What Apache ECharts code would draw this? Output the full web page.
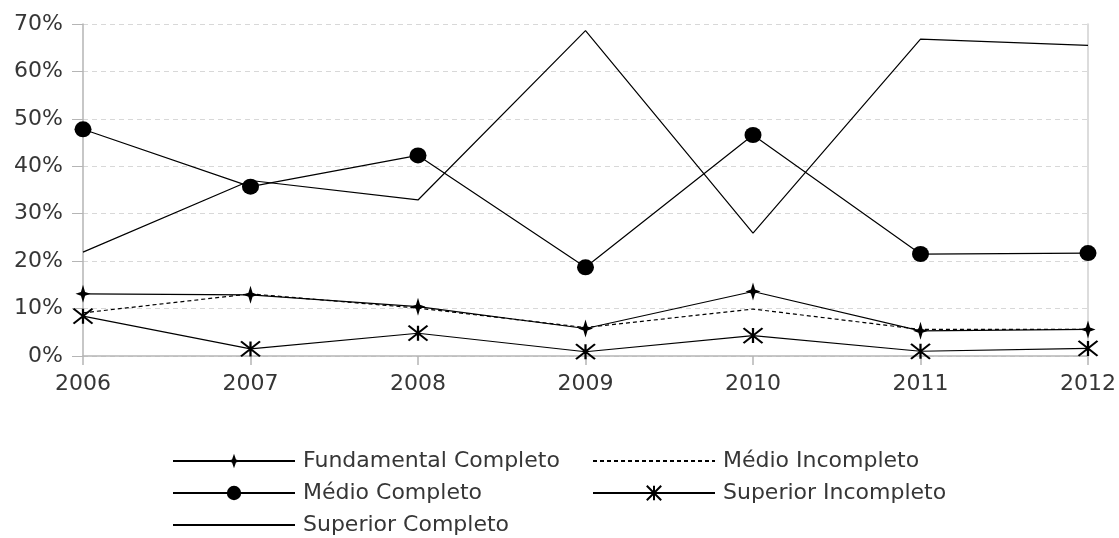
<!DOCTYPE html>
<html>
<head>
<meta charset="utf-8">
<script src="https://cdn.jsdelivr.net/npm/echarts@6/dist/echarts.min.js"></script>
<style>
  html, body { margin: 0; padding: 0; background: #fff; }
  #chart { width: 1119px; height: 538px; }
</style>
</head>
<body>
<div id="chart"></div>
<script>
// Years on the horizontal axis
const years = ['2006', '2007', '2008', '2009', '2010', '2011', '2012'];

// Share (%) per schooling level
const fundamentalCompleto = [13.1, 12.9, 10.4, 5.8, 13.6, 5.3, 5.6];
const medioIncompleto     = [9.1, 13.1, 10.1, 6.0, 9.9, 5.6, 5.6];
const medioCompleto       = [47.8, 35.7, 42.3, 18.7, 46.6, 21.5, 21.7];
const superiorIncompleto  = [8.4, 1.5, 4.8, 0.9, 4.3, 1.0, 1.6];
const superiorCompleto    = [21.9, 37.0, 32.9, 68.6, 25.9, 66.8, 65.5];

// Y axis ticks
const yMin = 0, yMax = 70, yStep = 10;

const FONT = 'DejaVu Sans';
const FONT_SIZE = 22;
const TEXT = '#363636';
const AXIS = '#b5b5b5';

const STAR4 = 'path://M0,-10 L2.2,-2.2 L8,0 L2.2,2.2 L0,10 L-2.2,2.2 L-8,0 L-2.2,-2.2Z';
const ASTERISK = 'path://M0,0L20,16M20,0L0,16M10,0L10,16';

const chart = echarts.init(document.getElementById('chart'), null, { renderer: 'canvas' });

// One legend block per entry so the two columns line up
function legendAt(name, left, top, lineOnly) {
  const lg = {
    data: [name],
    left: left,
    top: top,
    padding: 0,
    itemWidth: 122,
    itemHeight: 18,
    selectedMode: false,
    textStyle: { fontFamily: FONT, fontSize: FONT_SIZE, color: TEXT, padding: [0, 0, 0, 3] }
  };
  if (lineOnly) lg.itemStyle = { opacity: 0 };
  return lg;
}

const baseLine = { color: '#000', width: 1.2 };

chart.setOption({
  animation: false,
  backgroundColor: '#fff',
  grid: { left: 83, right: 31, top: 24, bottom: 182, containLabel: false, outerBoundsMode: 'none' },
  legend: [
    legendAt('Fundamental Completo', 172, 450, false),
    legendAt('Médio Incompleto', 592, 450, true),
    legendAt('Médio Completo', 172, 482, false),
    legendAt('Superior Incompleto', 592, 482, false),
    legendAt('Superior Completo', 172, 514, true)
  ],
  xAxis: {
    type: 'category',
    data: years,
    boundaryGap: false,
    axisLine: { lineStyle: { color: AXIS, width: 1.5 } },
    axisTick: { show: true, length: 9, alignWithLabel: true, lineStyle: { color: AXIS, width: 1.5 } },
    axisLabel: { margin: 17, fontFamily: FONT, fontSize: FONT_SIZE, color: TEXT },
    splitLine: { show: false }
  },
  yAxis: [
    {
      type: 'value',
      min: yMin,
      max: yMax,
      interval: yStep,
      axisLine: { show: true, lineStyle: { color: AXIS, width: 1.5 } },
      axisTick: { show: true, length: 11, lineStyle: { color: AXIS, width: 1 } },
      axisLabel: { margin: 20, fontFamily: FONT, fontSize: FONT_SIZE, color: TEXT, formatter: '{value}%' },
      splitLine: { show: true, lineStyle: { color: '#d8d8d8', type: [5, 4], width: 1 } }
    },
    {
      type: 'value',
      position: 'right',
      min: yMin,
      max: yMax,
      interval: yStep,
      axisLine: { show: true, lineStyle: { color: '#d0d0d0', width: 1.5 } },
      axisTick: { show: false },
      axisLabel: { show: false },
      splitLine: { show: false }
    }
  ],
  series: [
    {
      name: 'Superior Completo',
      type: 'line',
      data: superiorCompleto,
      symbol: 'none',
      lineStyle: baseLine,
      itemStyle: { color: '#000' },
      z: 2
    },
    {
      name: 'Médio Incompleto',
      type: 'line',
      data: medioIncompleto,
      symbol: 'none',
      lineStyle: { color: '#000', width: 1.2, type: [4, 3] },
      itemStyle: { color: '#000' },
      z: 3
    },
    {
      name: 'Médio Completo',
      type: 'line',
      data: medioCompleto,
      symbol: 'circle',
      symbolSize: [17, 16],
      lineStyle: baseLine,
      itemStyle: { color: '#000' },
      z: 4
    },
    {
      name: 'Fundamental Completo',
      type: 'line',
      data: fundamentalCompleto,
      symbol: STAR4,
      symbolSize: [15, 18],
      lineStyle: baseLine,
      itemStyle: { color: '#000' },
      z: 5
    },
    {
      name: 'Superior Incompleto',
      type: 'line',
      data: superiorIncompleto,
      symbol: ASTERISK,
      symbolSize: [19, 15],
      lineStyle: baseLine,
      itemStyle: { color: '#000', borderColor: '#000', borderWidth: 2 },
      z: 5
    }
  ]
});
</script>
</body>
</html>
